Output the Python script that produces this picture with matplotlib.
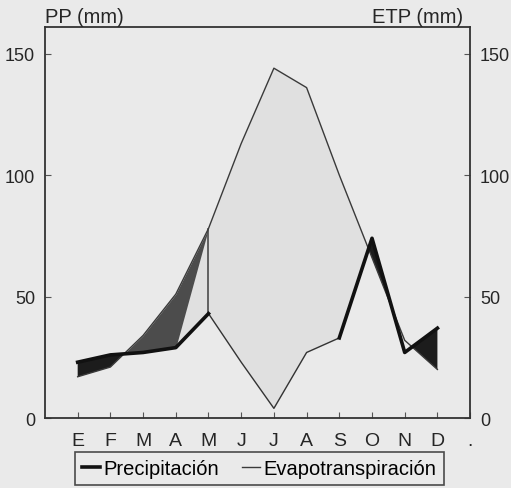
import numpy as np
import matplotlib
matplotlib.use("Agg")
import matplotlib.pyplot as plt

# monthly values (mm)
months = ["E", "F", "M", "A", "M", "J", "J", "A", "S", "O", "N", "D", "."]
precipitacion = [23, 26, 27, 29, 43, 23, 4, 27, 33, 74, 27, 37]
evapotranspiracion = [17, 21, 34, 51, 78, 113, 144, 136, 100, 66, 32, 20]

paper = "#eaeaea"
ink = "#262626"

plt.rcParams["font.family"] = ["Liberation Sans", "DejaVu Sans"]

def main():
    x = np.arange(1, 13)
    pp = np.array(precipitacion, dtype=float)
    etp = np.array(evapotranspiracion, dtype=float)

    fig = plt.figure(figsize=(5.11, 4.89), dpi=100, facecolor=paper)
    ax = fig.add_axes([0.088, 0.143, 0.832, 0.800], facecolor=paper)

    # surplus (PP > ETP) in black
    ax.fill_between(x, pp, etp, where=pp > etp, interpolate=True,
                    color="#1c1c1c", lw=0)
    # spring deficit, dark grey
    ax.fill_between(x, pp, etp, where=(etp > pp) & (x <= 5), interpolate=True,
                    color="#4c4c4c", lw=0)
    # summer deficit, light stipple
    ax.fill_between(x, pp, etp, where=(etp >= pp) & (x >= 5) & (x <= 10),
                    interpolate=True, color="#e0e0e0", lw=0)
    ax.plot([5, 5], [pp[4], etp[4]], color="#4c4c4c", lw=1.2)

    ax.plot(x, etp, color="#3a3a3a", lw=1.0, label="Evapotranspiración")
    ax.plot(x, pp, color="#333333", lw=1.0)
    # the thick precipitation stroke is only drawn outside summer
    pp_thick = np.where((x > 5) & (x < 9), np.nan, pp)
    ax.plot(x, pp_thick, color="#111111", lw=2.6, label="Precipitación")

    ax.set_xlim(0, 13)
    ax.set_ylim(0, 161)
    ax.set_xticks(np.arange(1, 14))
    ax.set_xticklabels(months)
    ax.set_yticks([0, 50, 100, 150])
    ax.tick_params(axis="both", direction="in", length=4, width=0.8,
                   colors="#555555", labelcolor=ink, labelsize=13)
    ax.tick_params(axis="x", pad=10, labelsize=14)
    ax.tick_params(axis="y", pad=8, right=True, labelright=True)
    ax.tick_params(axis="y", which="major", labelright=True, pad=7)
    for s in ax.spines.values():
        s.set_color("#333333")
        s.set_linewidth(1.3)

    fig.text(0.088, 0.965, "PP (mm)", fontsize=14.5, color=ink, va="center")
    fig.text(0.906, 0.965, "ETP (mm)", fontsize=14.5, color=ink, va="center",
             ha="right")

    h, l = ax.get_legend_handles_labels()
    leg = fig.legend(h[::-1], l[::-1], loc="center", bbox_to_anchor=(0.507, 0.039),
                     ncol=2, fontsize=14.5, frameon=True, fancybox=False,
                     handlelength=0.9, handletextpad=0.2, columnspacing=1.1,
                     borderpad=0.35, borderaxespad=0)
    leg.get_frame().set_edgecolor("#222222")
    leg.get_frame().set_facecolor(paper)
    leg.get_frame().set_linewidth(1.2)

    fig.savefig("out.png", dpi=100, facecolor=paper)

if __name__ == "__main__":
    main()
